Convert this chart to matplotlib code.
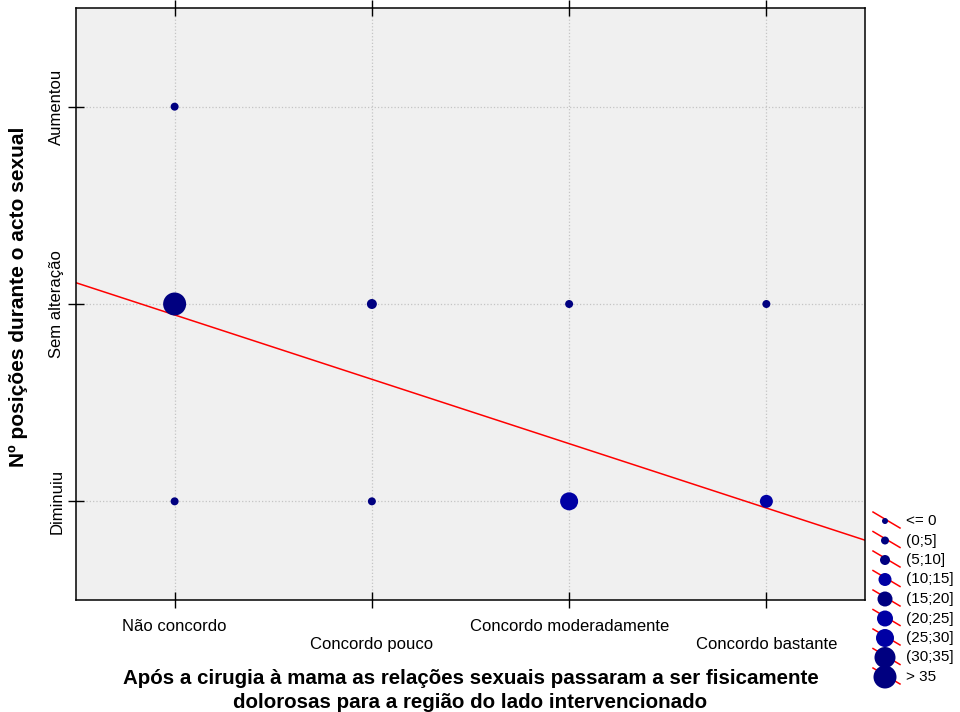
import numpy as np
import matplotlib.pyplot as plt

plt.rcParams['font.family'] = ['Liberation Sans', 'DejaVu Sans']

# categories
x_levels = ['Não concordo', 'Concordo pouco', 'Concordo moderadamente', 'Concordo bastante']
y_levels = ['Diminuiu', 'Sem alteração', 'Aumentou']

# frequencies per answer (one list per y level, in x_levels order)
freq_diminuiu = [3, 3, 27, 14]
freq_sem_alteracao = [38, 7, 3, 3]
freq_aumentou = [2, 0, 0, 0]

size_classes = ['<= 0', '(0;5]', '(5;10]', '(10;15]', '(15;20]', '(20;25]', '(25;30]', '(30;35]', '> 35']

# styles per size class
class_diam_px = [6, 8, 10, 13, 15, 16, 18, 21, 23]
navy = '#000080'
bright = '#0000a4'
class_colors = [navy, navy, navy, bright, navy, bright, bright, navy, navy]


def size_class(n):
    if n <= 0:
        return 0
    return int(min(np.ceil(n / 5.0), 8))


def px2s(d):
    # scatter size (pt^2) from diameter in pixels at dpi 100
    return (d * 0.72) ** 2


fig = plt.figure(figsize=(9.6, 7.12), dpi=100)
ax = fig.add_axes([76 / 960, 1 - 600 / 712, (865 - 76) / 960, (600 - 8) / 712])
ax.set_facecolor('#f0f0f0')

freqs = [freq_diminuiu, freq_sem_alteracao, freq_aumentou]
xs, ys, ns = [], [], []
for j, row in enumerate(freqs):
    for i, n in enumerate(row):
        if n > 0:
            xs.append(i + 1)
            ys.append(j + 1)
            ns.append(n)
xs = np.array(xs)
ys = np.array(ys)
ns = np.array(ns)

ax.set_xlim(0.5, 4.5)
ax.set_ylim(0.5, 3.5)

ax.grid(True, color='#c4c4c4', linestyle=':', linewidth=0.9)
ax.set_axisbelow(True)

# regression line from the weighted data
slope, intercept = np.polyfit(np.repeat(xs, ns), np.repeat(ys, ns), 1)
xl = np.array([0.5, 4.5])
ax.plot(xl, intercept + slope * xl, color='red', lw=1.1, zorder=2)

cls = [size_class(n) for n in ns]
ax.scatter(xs, ys, s=[px2s(class_diam_px[c]) for c in cls],
           c=[class_colors[c] for c in cls], edgecolors='none', zorder=3)

ax.set_xticks(range(1, 5))
ax.set_xticklabels([lbl if k % 2 == 0 else '\n' + lbl for k, lbl in enumerate(x_levels)], fontsize=12)
for t in ax.get_xticklabels():
    t.set_linespacing(1.3)
ax.set_yticks(range(1, 4))
ax.set_yticklabels(y_levels, fontsize=12, rotation=90, va='center')
ax.tick_params(axis='both', direction='inout', length=11, width=1, top=True, right=False)
ax.tick_params(axis='x', pad=8)
ax.tick_params(axis='y', pad=3)
for sp in ax.spines.values():
    sp.set_linewidth(1.1)

ax.set_xlabel('Após a cirugia à mama as relações sexuais passaram a ser fisicamente\n'
              'dolorosas para a região do lado intervencionado',
              fontsize=14.8, fontweight='bold', labelpad=12, linespacing=1.3)
ax.set_ylabel('Nº posições durante o acto sexual', fontsize=15, fontweight='bold')
ax.yaxis.set_label_coords(-0.061, 0.512)

# legend drawn in pixel coordinates
lax = fig.add_axes([868 / 960, 1 - 695 / 712, 92 / 960, 190 / 712])
lax.set_xlim(868, 960)
lax.set_ylim(695, 505)
lax.axis('off')
for k, lbl in enumerate(size_classes):
    yk = 521 + k * 19.5
    lax.plot([873, 900], [yk - 9, yk + 7], color='red', lw=1.1, zorder=1)
    lax.scatter([885], [yk], s=px2s(class_diam_px[k]), c=class_colors[k], edgecolors='none', zorder=2)
    lax.text(906, yk, lbl, fontsize=11, va='center', ha='left')

fig.savefig('out.png', dpi=100)
